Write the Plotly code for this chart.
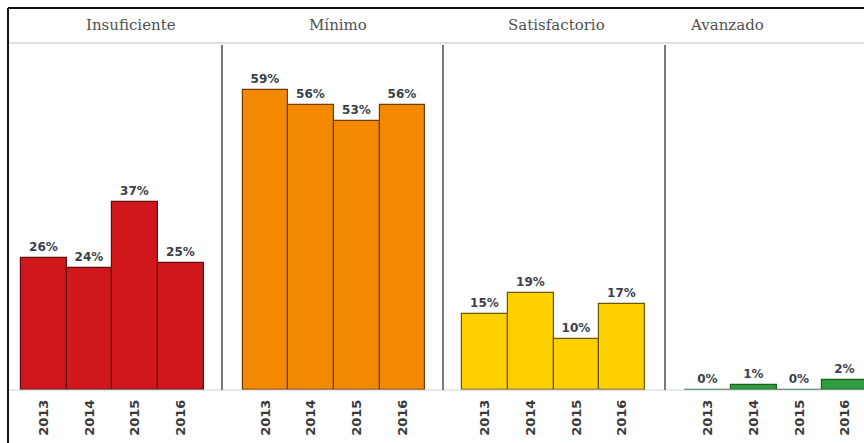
import plotly.graph_objects as go
from plotly.subplots import make_subplots

# Achievement levels and yearly results (% of students)
levels = ["Insuficiente", "Mínimo", "Satisfactorio", "Avanzado"]
years = ["2013", "2014", "2015", "2016"]
insuficiente = [26, 24, 37, 25]
minimo = [59, 56, 53, 56]
satisfactorio = [15, 19, 10, 17]
avanzado = [0, 1, 0, 2]
series = [insuficiente, minimo, satisfactorio, avanzado]

fill_colors = ["#D0171B", "#F28900", "#FFD000", "#2E9B3C"]
edge_colors = ["#5C0F0F", "#6E3A00", "#6A5800", "#1D5E22"]

W, H = 864, 443
# panel edges in pixels
panel_px = [(8, 222), (222, 443), (443, 665), (665, 864)]
x_ranges = [[-0.78, 3.9], [-0.95, 3.89], [-0.92, 3.94], [-0.94, 3.41]]
title_px = [131, 338, 556, 727]
base_px, top_px, head_px = 390, 43, 8

fig = make_subplots(rows=1, cols=4, shared_yaxes=False, horizontal_spacing=0)

for i, vals in enumerate(series):
    fig.add_trace(
        go.Bar(
            x=years,
            y=vals,
            marker=dict(color=fill_colors[i], line=dict(color=edge_colors[i], width=1.2)),
            text=[f"<b>{v}%</b>" for v in vals],
            textposition="outside",
            textfont=dict(family="DejaVu Sans", size=12, color="#3A3F48"),
            cliponaxis=False,
            showlegend=False,
            hoverinfo="skip",
        ),
        row=1,
        col=i + 1,
    )

y_dom = [(H - base_px) / H, (H - top_px) / H]
ymax = 68.3
for i in range(4):
    x0, x1 = panel_px[i]
    xa = "xaxis" if i == 0 else f"xaxis{i + 1}"
    ya = "yaxis" if i == 0 else f"yaxis{i + 1}"
    fig.layout[xa].update(
        domain=[x0 / W, x1 / W],
        range=x_ranges[i],
        type="category",
        tickangle=-90,
        tickfont=dict(family="DejaVu Sans", size=13, color="#3A3A3A", weight="bold"),
        ticklabelstandoff=6,
        showgrid=False,
        zeroline=False,
        showline=False,
        ticks="",
        fixedrange=True,
    )
    fig.layout[ya].update(
        domain=y_dom,
        range=[0, ymax],
        showticklabels=False,
        showgrid=False,
        zeroline=False,
        showline=False,
        fixedrange=True,
    )

shapes = []
# outer frame (top and left)
shapes.append(dict(type="line", xref="paper", yref="paper", x0=8 / W, x1=1, y0=(H - head_px) / H,
                   y1=(H - head_px) / H, line=dict(color="#111111", width=2)))
shapes.append(dict(type="line", xref="paper", yref="paper", x0=8 / W, x1=8 / W, y0=0,
                   y1=(H - head_px) / H, line=dict(color="#111111", width=2)))
# header bottom rule
shapes.append(dict(type="line", xref="paper", yref="paper", x0=9 / W, x1=1, y0=(H - top_px) / H,
                   y1=(H - top_px) / H, line=dict(color="#E0E0E0", width=2)))
# baseline
shapes.append(dict(type="line", xref="paper", yref="paper", x0=9 / W, x1=1, y0=(H - base_px) / H,
                   y1=(H - base_px) / H, line=dict(color="#C9D3DD", width=1)))
# panel separators
for x0, _ in panel_px[1:]:
    shapes.append(dict(type="line", xref="paper", yref="paper", x0=x0 / W, x1=x0 / W,
                       y0=(H - base_px) / H, y1=(H - top_px - 2) / H,
                       line=dict(color="#7A7A7A", width=2)))

annotations = []
for i, name in enumerate(levels):
    annotations.append(dict(
        text=name, xref="paper", yref="paper", x=title_px[i] / W, y=(H - 25) / H,
        xanchor="center", yanchor="middle", showarrow=False,
        font=dict(family="DejaVu Serif", size=15, color="#505050"),
    ))

fig.update_layout(
    width=W,
    height=H,
    margin=dict(l=0, r=0, t=0, b=0),
    paper_bgcolor="white",
    plot_bgcolor="white",
    bargap=0,
    shapes=shapes,
    annotations=annotations,
)

fig.write_html("out.html")
